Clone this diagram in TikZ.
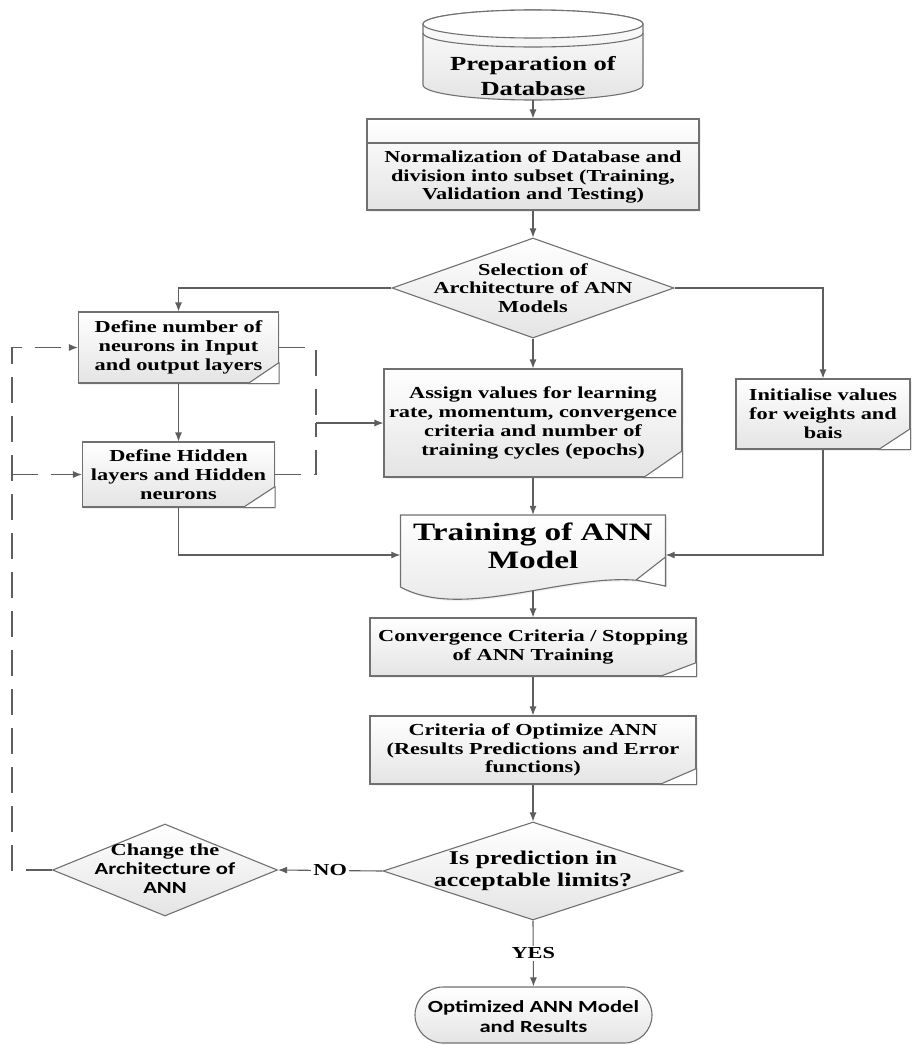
\documentclass[tikz,border=0pt]{standalone}
\usepackage{fontspec}
\setmainfont{Liberation Serif}[FakeStretch=1.33]
\newfontfamily\cfont{Carlito}[FakeStretch=1.33]
\usetikzlibrary{shapes.geometric,shapes.misc,arrows.meta,shadows}
\definecolor{lnc}{HTML}{5E5E5E}
\definecolor{bdc}{HTML}{707070}
\definecolor{fbc}{HTML}{E4E4E4}
\tikzset{
  shadebox/.style={draw=bdc, line width=1.1pt, top color=white, bottom color=fbc},
  boxs/.style={shadebox, rectangle, inner sep=0pt, align=center,
     font=\fontsize{16.8}{18.8}\selectfont\bfseries,
     drop shadow={shadow xshift=1.8pt, shadow yshift=-1.8pt, opacity=0.12}},
  dia/.style={shadebox, diamond, inner sep=0pt},
  txt/.style={align=center, inner sep=0pt, font=\fontsize{16.8}{18.8}\selectfont\bfseries},
  arr/.style={draw=lnc, line width=1.1pt, -{Latex[length=9pt,width=7pt]}},
  dsh/.style={draw=lnc, line width=1.1pt, dash pattern=on 26pt off 13pt},
  dsharr/.style={dsh, -{Latex[length=9pt,width=7pt]}},
  lab/.style={txt, fill=white, inner sep=2pt},
  foldtri/.style={fill=white, draw=bdc, line width=1.1pt, line join=round},
}
\newcommand{\pagefold}[3]{%
  \filldraw[foldtri] ([xshift=-#2]#1.south east) -- (#1.south east) -- ([yshift=#3]#1.south east) -- cycle;}
\begin{document}
\begin{tikzpicture}[x=1pt,y=-1pt]
\useasboundingbox (0,0) rectangle (914,1045);

% ---- database cylinder
\node[inner sep=0pt, minimum width=220pt, minimum height=90pt] (db) at (533,55) {};
\path[shadebox] (423,24) -- (423,85) arc[start angle=180, end angle=0, x radius=110, y radius=15]
   -- (643,24) arc[start angle=0, end angle=-180, x radius=110, y radius=14] -- cycle;
\draw[draw=bdc, line width=1.1pt, fill=white] (533,24) ellipse[x radius=110, y radius=14];
\draw[draw=bdc, line width=1.1pt] (423,33) arc[start angle=180, end angle=0, x radius=110, y radius=14];
\node[txt, font=\fontsize{20}{25}\selectfont\bfseries] (dbtxt) at (533,76) {Preparation of\\Database};

% ---- normalization box
\node[boxs, minimum width=332pt, minimum height=91pt] (norm) at (533,164.5) {};
\draw[draw=bdc, line width=1.1pt] (367,143) -- (699,143);
\node[txt] (normtxt) at (533,177) {Normalization of Database and\\division into subset (Training,\\Validation and Testing)};

% ---- selection diamond
\node[dia, minimum width=282pt, minimum height=100pt] (sel) at (533,288) {};
\node[txt] (seltxt) at (533,288) {Selection of\\Architecture of ANN\\Models};

% ---- left boxes
\node[boxs, minimum width=200pt, minimum height=71pt] (b1) at (178.5,347.5) {Define number of\\neurons in Input\\and output layers};
\pagefold{b1}{31pt}{21pt}
\node[boxs, minimum width=192pt, minimum height=65pt] (b2) at (178.5,474.5) {Define Hidden\\layers and Hidden\\neurons};
\pagefold{b2}{32pt}{21pt}

% ---- assign / init
\node[boxs, minimum width=298pt, minimum height=108pt] (assign) at (533,423) {Assign values for learning\\rate, momentum, convergence\\criteria and number of\\training cycles (epochs)};
\pagefold{assign}{39pt}{27pt}
\node[boxs, minimum width=174pt, minimum height=70pt] (init) at (823,414) {Initialise values\\for weights and\\bais};
\pagefold{init}{32pt}{21pt}

% ---- training document
\node[inner sep=0pt, minimum width=265pt, minimum height=76pt] (train) at (533,553) {};
\path[shadebox, drop shadow={shadow xshift=1.8pt, shadow yshift=-1.8pt, opacity=0.12}]
  (400.5,515) -- (665.5,515) -- (665.5,586)
  .. controls (590,560) and (470,625) .. (400.5,587) -- cycle;
\filldraw[foldtri] (636,580) -- (665.5,557) -- (665.5,586) -- cycle;
\node[txt, font=\fontsize{25}{28}\selectfont\bfseries] (traintxt) at (533,546) {Training of ANN\\Model};

% ---- convergence / criteria
\node[boxs, minimum width=326pt, minimum height=58pt] (conv) at (533,647) {Convergence Criteria / Stopping\\of ANN Training};
\pagefold{conv}{37pt}{14pt}
\node[boxs, minimum width=326pt, minimum height=68pt] (crit) at (533,750) {Criteria of Optimize ANN\\(Results Predictions and Error\\functions)};
\pagefold{crit}{37pt}{16pt}

% ---- decision diamonds
\node[dia, minimum width=300pt, minimum height=98pt] (pred) at (533,871) {};
\node[txt, font=\fontsize{19.5}{22}\selectfont\bfseries] (predtxt) at (533,871) {Is prediction in\\acceptable limits?};
\node[dia, minimum width=225pt, minimum height=92pt] (change) at (165,870) {};
\node[txt, font=\fontsize{16.8}{19}\selectfont\bfseries] (changetxt) at (165,869) {Change the\\{\cfont\fontsize{17}{19}\selectfont Architecture of}\\{\cfont\fontsize{17}{19}\selectfont ANN}};

% ---- terminator
\node[shadebox, rounded rectangle, inner sep=0pt, minimum width=237pt, minimum height=56pt] (opt) at (533.5,1015) {};
\node[txt, font=\cfont\fontsize{17}{20}\selectfont\bfseries] (opttxt) at (533.5,1017) {Optimized ANN Model\\and Results};

% ---- connectors
\draw[arr] (db.south) -- (norm.north);
\draw[arr] (norm.south) -- (sel.north);
\draw[arr] (sel.west) -| (b1.north);
\draw[arr] (sel.east) -| (init.north);
\draw[arr] (sel.south) -- (assign.north);
\draw[arr] (b1.south) -- (b2.north);
\draw[arr] (b2.south) |- ([yshift=-2pt]train.west);
\draw[arr] (init.south) |- ([yshift=-2pt]train.east);
\draw[arr] (assign.south) -- (train.north);
\draw[arr] (train.south) -- (conv.north);
\draw[arr] (conv.south) -- (crit.north);
\draw[arr] (crit.south) -- (pred.north);
\draw[arr] (pred.west) -- node[lab] (nolab) {NO} (change.east);
\draw[arr] (pred.south) -- node[lab] (yeslab) {YES} (opt.north);

% ---- dashed feedback
\coordinate (jn) at (316,423);
\draw[dsh] (b1.east) -| (jn);
\draw[dsh] (b2.east) -| (jn);
\draw[arr] (jn) -- (assign.west);
\coordinate (lc) at (12,870);
\coordinate (lb) at (12,474.5);
\draw[dsharr] (change.west) -- (lc) |- (b1.west);
\draw[dsharr] (lb) -- (b2.west);
\end{tikzpicture}
\end{document}
